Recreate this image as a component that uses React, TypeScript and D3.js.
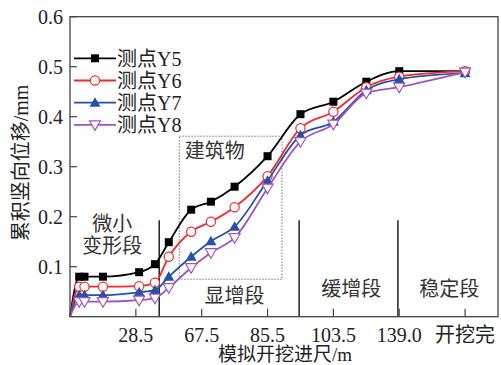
import React from "react";
import * as d3 from "d3";

const xPos = [0, 0.14, 0.22, 0.5, 1.05, 1.29, 1.5, 1.84, 2.14, 2.5, 3, 3.5, 4, 4.5, 5, 6];
const y5 = [0, 0.08, 0.08, 0.08, 0.089, 0.105, 0.149, 0.214, 0.23, 0.26, 0.321, 0.405, 0.43, 0.47, 0.491, 0.491];
const y6 = [0, 0.06, 0.06, 0.06, 0.061, 0.068, 0.12, 0.17, 0.19, 0.219, 0.281, 0.377, 0.41, 0.459, 0.48, 0.491];
const y7 = [0, 0.043, 0.043, 0.043, 0.049, 0.053, 0.08, 0.12, 0.151, 0.18, 0.272, 0.363, 0.39, 0.453, 0.475, 0.487];
const y8 = [0, 0.03, 0.03, 0.03, 0.033, 0.037, 0.058, 0.098, 0.128, 0.158, 0.257, 0.35, 0.385, 0.447, 0.459, 0.489];

const seriesNames = ["测点Y5", "测点Y6", "测点Y7", "测点Y8"];
const seriesValues = [y5, y6, y7, y8];
const seriesColors = ["#000000", "#f22a2a", "#2452a8", "#a052c0"];
const seriesMarkers = ["square", "circle", "triangle", "triangleDown"];

const xTickPos = [1, 2, 3, 4, 5, 6];
const xTickLabels = ["28.5", "67.5", "85.5", "103.5", "139.0", "开挖完"];
const yTicks = [0.1, 0.2, 0.3, 0.4, 0.5, 0.6];

const dividers = [1.355, 3.48, 4.98];
const dividerTop = 0.193;
const boxX = [1.66, 3.22];
const boxY = [0.075, 0.361];

const stageLabels = [
  { lines: ["微小", "变形段"], x: 0.64, y: 0.171 },
  { lines: ["显增段"], x: 2.5, y: 0.027 },
  { lines: ["缓增段"], x: 4.27, y: 0.041 },
  { lines: ["稳定段"], x: 5.76, y: 0.041 },
  { lines: ["建筑物"], x: 2.2, y: 0.317 },
];

const W = 501, H = 365;
const L = 70, R = 498, T = 16.7, B = 316.7;
const FONT = '"Liberation Serif", "Noto Sans CJK SC", serif';

function Marker({ type, x, y, color }: { type: string; x: number; y: number; color: string }) {
  if (type === "square") return <rect x={x - 4} y={y - 4} width={8} height={8} fill={color} />;
  if (type === "circle") return <circle cx={x} cy={y} r={4.6} fill="#fff" stroke={color} strokeWidth={1.2} />;
  if (type === "triangle")
    return <path d={`M${x},${y - 5.5}L${x + 5.5},${y + 4}L${x - 5.5},${y + 4}Z`} fill={color} />;
  return (
    <path d={`M${x},${y + 5.5}L${x + 5.5},${y - 4}L${x - 5.5},${y - 4}Z`} fill="#fff" stroke={color} strokeWidth={1.2} />
  );
}

export default function App() {
  const x = d3.scaleLinear().domain([0, 6.5]).range([L, R]);
  const y = d3.scaleLinear().domain([0, 0.6]).range([B, T]);
  const line = d3
    .line<number>()
    .x((_, i) => x(xPos[i]))
    .y((d) => y(d))
    .curve(d3.curveMonotoneX);

  return (
    <svg width={W} height={H} style={{ position: "absolute", left: 0, top: 0, background: "#fff" }} fontFamily={FONT}>
      <rect x={0} y={0} width={W} height={H} fill="#fff" />
      {/* dotted box */}
      <rect
        x={x(boxX[0])}
        y={y(boxY[1])}
        width={x(boxX[1]) - x(boxX[0])}
        height={y(boxY[0]) - y(boxY[1])}
        fill="none"
        stroke="#777"
        strokeWidth={1}
        strokeDasharray="1.5,1.5"
      />
      {/* dividers */}
      {dividers.map((d, i) => (
        <line key={i} x1={x(d)} x2={x(d)} y1={y(dividerTop)} y2={B} stroke="#222" strokeWidth={1.5} />
      ))}
      {/* stage labels */}
      {stageLabels.map((s, i) => (
        <text key={i} x={x(s.x)} y={y(s.y)} textAnchor="middle" fontSize={20} fill="#333">
          {s.lines.map((ln, j) => (
            <tspan key={j} x={x(s.x)} dy={j === 0 ? 0 : 22}>
              {ln}
            </tspan>
          ))}
        </text>
      ))}
      {/* series */}
      {seriesValues.map((vals, si) => (
        <g key={si}>
          <path d={line(vals) || ""} fill="none" stroke={seriesColors[si]} strokeWidth={1.8} />
          {vals.map((v, i) =>
            i === 0 ? null : (
              <Marker key={i} type={seriesMarkers[si]} x={x(xPos[i])} y={y(v)} color={seriesColors[si]} />
            )
          )}
        </g>
      ))}
      {/* frame */}
      <rect x={L} y={T} width={R - L} height={B - T} fill="none" stroke="#444" strokeWidth={1.3} />
      {/* y ticks */}
      {yTicks.map((t, i) => (
        <g key={i}>
          <line x1={L} x2={L + 7} y1={y(t)} y2={y(t)} stroke="#444" strokeWidth={1.2} />
          <text x={L - 7} y={y(t)} dy="0.35em" textAnchor="end" fontSize={20} fill="#222">
            {t.toFixed(1)}
          </text>
        </g>
      ))}
      {/* x ticks */}
      {xTickPos.map((t, i) => (
        <g key={i}>
          <line x1={x(t)} x2={x(t)} y1={B} y2={B - 8} stroke="#444" strokeWidth={1.2} />
          <text x={x(t)} y={342} textAnchor="middle" fontSize={20} fill="#222">
            {xTickLabels[i]}
          </text>
        </g>
      ))}
      {/* axis titles */}
      <text x={285} y={361} textAnchor="middle" fontSize={19} fill="#222">
        模拟开挖进尺/m
      </text>
      <text transform="translate(28,163) rotate(-90)" textAnchor="middle" fontSize={20} fill="#222">
        累积竖向位移/mm
      </text>
      {/* legend */}
      {seriesNames.map((n, i) => {
        const ly = 58.3 + i * 22.2;
        return (
          <g key={i}>
            <line x1={74} x2={116} y1={ly} y2={ly} stroke={seriesColors[i]} strokeWidth={1.8} />
            <Marker type={seriesMarkers[i]} x={95} y={ly} color={seriesColors[i]} />
            <text x={117} y={ly} dy="0.36em" fontSize={20} fill="#222">
              {n}
            </text>
          </g>
        );
      })}
    </svg>
  );
}
